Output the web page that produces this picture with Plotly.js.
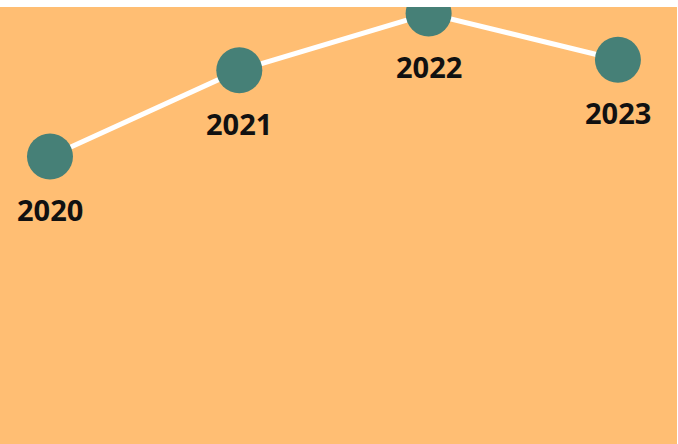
<!DOCTYPE html>
<html>
<head>
<meta charset="utf-8">
<script src="https://cdn.plot.ly/plotly-3.0.1.min.js"></script>
<style>html,body{margin:0;padding:0;background:#fff;}#chart{width:678px;height:444px;}</style>
</head>
<body>
<div id="chart"></div>
<script>
const years = [2020, 2021, 2022, 2023];
const values = [66, 85.8, 98.8, 88.2];
const labels = ["2020", "2021", "2022", "2023"];

const trace = {
  x: years,
  y: values,
  mode: "lines+markers",
  line: {color: "#ffffff", width: 5},
  marker: {color: "#468077", size: 46},
  hoverinfo: "none",
  cliponaxis: true
};

const annotations = years.map((yr, i) => ({
  x: yr,
  y: values[i],
  text: labels[i],
  showarrow: false,
  xanchor: "center",
  yanchor: "middle",
  yshift: -53,
  font: {family: "Open Sans", size: 29, color: "#111111", weight: 700}
}));

const layout = {
  width: 678,
  height: 444,
  margin: {l: 0, r: 1, t: 7, b: 0},
  paper_bgcolor: "#ffffff",
  plot_bgcolor: "#FFBE73",
  showlegend: false,
  annotations: annotations,
  xaxis: {range: [2019.736, 2023.312], visible: false, showgrid: false, zeroline: false},
  yaxis: {range: [0, 100.3], visible: false, showgrid: false, zeroline: false}
};

Plotly.newPlot("chart", [trace], layout, {displayModeBar: false, staticPlot: true});
</script>
</body>
</html>
